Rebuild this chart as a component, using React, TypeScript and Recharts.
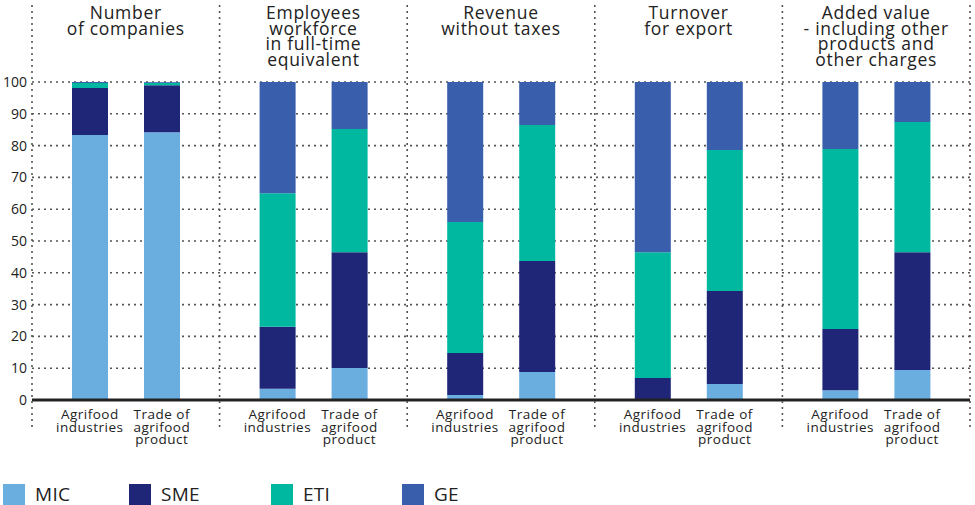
import React from 'react';
import { BarChart, Bar, XAxis, YAxis, CartesianGrid, Legend } from 'recharts';

// ---------- data ----------
const groupTitles: string[][] = [
  ['Number', 'of companies'],
  ['Employees', 'workforce', 'in full-time', 'equivalent'],
  ['Revenue', 'without taxes'],
  ['Turnover', 'for export'],
  ['Added value', '- including other', 'products and', 'other charges'],
];
const groupKeys = ['companies', 'employees', 'revenue', 'export', 'addedValue'];
const barLabels: string[][] = [
  ['Agrifood', 'industries'],
  ['Trade of', 'agrifood', 'product'],
];
const yTicks = [0, 10, 20, 30, 40, 50, 60, 70, 80, 90, 100];

// Agrifood industries
const agriMIC = [83.3, 3.5, 1.6, 0, 3.1];
const agriSME = [14.8, 19.5, 13.2, 6.9, 19.2];
const agriETI = [1.6, 42.0, 41.2, 39.6, 56.6];
const agriGE = [0.3, 35.0, 44.0, 53.5, 21.1];
// Trade of agrifood product
const tradeMIC = [84.2, 10.1, 8.8, 5.0, 9.4];
const tradeSME = [14.8, 36.4, 34.9, 29.3, 37.1];
const tradeETI = [0.8, 38.7, 42.8, 44.3, 40.9];
const tradeGE = [0.2, 14.8, 13.5, 21.4, 12.6];

const seriesNames = ['MIC', 'SME', 'ETI', 'GE'];
const colors = ['#6aaddf', '#1f2577', '#00b8a0', '#395fac'];

const data = groupKeys.map((k, i) => ({
  name: k,
  agriMIC: agriMIC[i],
  agriSME: agriSME[i],
  agriETI: agriETI[i],
  agriGE: agriGE[i],
  tradeMIC: tradeMIC[i],
  tradeSME: tradeSME[i],
  tradeETI: tradeETI[i],
  tradeGE: tradeGE[i],
}));

// ---------- layout ----------
const W = 975;
const H = 505;
const MARGIN = { top: 0, right: 5, bottom: 0, left: 0 };
const Y_AXIS_W = 32;
const TOP_AXIS_H = 82;
const BOTTOM_AXIS_H = 65;
const LEGEND_H = 40;
const BAR_SIZE = 36;
const BAR_GAP = 36;
const PLOT_W = W - MARGIN.left - MARGIN.right - Y_AXIS_W;
const FONT = '"Open Sans", Lato, sans-serif';
const TEXT = '#222';
const GRID = '#555';

const TopTick = (props: any) => {
  const { x, index } = props;
  const lines = groupTitles[index] || [];
  const band = PLOT_W / groupKeys.length;
  const sepTop = 5;
  const sepBottom = 429;
  return (
    <g>
      <line x1={x - band / 2} x2={x - band / 2} y1={sepTop} y2={sepBottom}
        stroke={GRID} strokeWidth={1.6} strokeDasharray="2 4" />
      {index === groupKeys.length - 1 && (
        <line x1={x + band / 2} x2={x + band / 2} y1={sepTop} y2={sepBottom}
          stroke={GRID} strokeWidth={1.6} strokeDasharray="2 4" />
      )}
      <text x={x} y={19} textAnchor="middle" fontSize={17.5} fill={TEXT} fontFamily={FONT} letterSpacing={0.7}>
        {lines.map((l, k) => (
          <tspan key={k} x={x} dy={k === 0 ? 0 : 15.5}>{l}</tspan>
        ))}
      </text>
    </g>
  );
};

const BottomTick = (props: any) => {
  const { x } = props;
  const half = (BAR_SIZE + BAR_GAP) / 2;
  return (
    <g>
      {barLabels.map((lines, j) => {
        const cx = x + (j === 0 ? -half : half);
        return (
          <text key={j} x={cx} y={419} textAnchor="middle" fontSize={13.5} fill={TEXT} fontFamily={FONT} letterSpacing={0.5}>
            {lines.map((l, k) => (
              <tspan key={k} x={cx} dy={k === 0 ? 0 : 12.5}>{l}</tspan>
            ))}
          </text>
        );
      })}
    </g>
  );
};

const legendWidths = [126, 142, 131, 80];

const LegendContent = () => (
  <div style={{ height: LEGEND_H, display: 'flex', alignItems: 'flex-start', paddingTop: 18, boxSizing: 'border-box', fontFamily: FONT }}>
    {seriesNames.map((n, i) => (
      <div key={n} style={{ width: legendWidths[i], height: 22, display: 'flex', alignItems: 'flex-start', paddingLeft: 3, boxSizing: 'border-box' }}>
        <div style={{ width: 22, height: 22, marginTop: 1, background: colors[i], marginRight: 10 }} />
        <span style={{ fontSize: 19, color: TEXT, lineHeight: '22px', letterSpacing: 0.3 }}>{n}</span>
      </div>
    ))}
  </div>
);

export default function App() {
  return (
    <div style={{ position: 'absolute', left: 0, top: 0, width: W, height: H, background: '#fff', overflow: 'hidden' }}>
      <BarChart width={W} height={H} data={data} margin={MARGIN} barSize={BAR_SIZE} barGap={BAR_GAP}>
        <CartesianGrid vertical={false} stroke={GRID} strokeWidth={1.6} strokeDasharray="2 4" />
        <XAxis dataKey="name" xAxisId="top" orientation="top" height={TOP_AXIS_H}
          axisLine={false} tickLine={false} tick={<TopTick />} interval={0} />
        <XAxis dataKey="name" height={BOTTOM_AXIS_H} axisLine={{ stroke: '#222', strokeWidth: 3 }}
          tickLine={false} tick={<BottomTick />} interval={0} />
        <YAxis width={Y_AXIS_W} domain={[0, 100]} ticks={yTicks} axisLine={false} tickLine={false}
          tickSize={0} tickMargin={5} allowDataOverflow
          tick={{ fontSize: 14, fill: TEXT, fontFamily: FONT }} interval={0} />
        <Legend verticalAlign="bottom" align="left" height={LEGEND_H} content={<LegendContent />}
          wrapperStyle={{ left: 0, bottom: 0, height: LEGEND_H }} />
        <Bar dataKey="agriMIC" name="MIC" stackId="agri" fill={colors[0]} isAnimationActive={false} />
        <Bar dataKey="agriSME" name="SME" stackId="agri" fill={colors[1]} isAnimationActive={false} />
        <Bar dataKey="agriETI" name="ETI" stackId="agri" fill={colors[2]} isAnimationActive={false} />
        <Bar dataKey="agriGE" name="GE" stackId="agri" fill={colors[3]} isAnimationActive={false} />
        <Bar dataKey="tradeMIC" name="MIC" stackId="trade" fill={colors[0]} isAnimationActive={false} />
        <Bar dataKey="tradeSME" name="SME" stackId="trade" fill={colors[1]} isAnimationActive={false} />
        <Bar dataKey="tradeETI" name="ETI" stackId="trade" fill={colors[2]} isAnimationActive={false} />
        <Bar dataKey="tradeGE" name="GE" stackId="trade" fill={colors[3]} isAnimationActive={false} />
      </BarChart>
    </div>
  );
}
